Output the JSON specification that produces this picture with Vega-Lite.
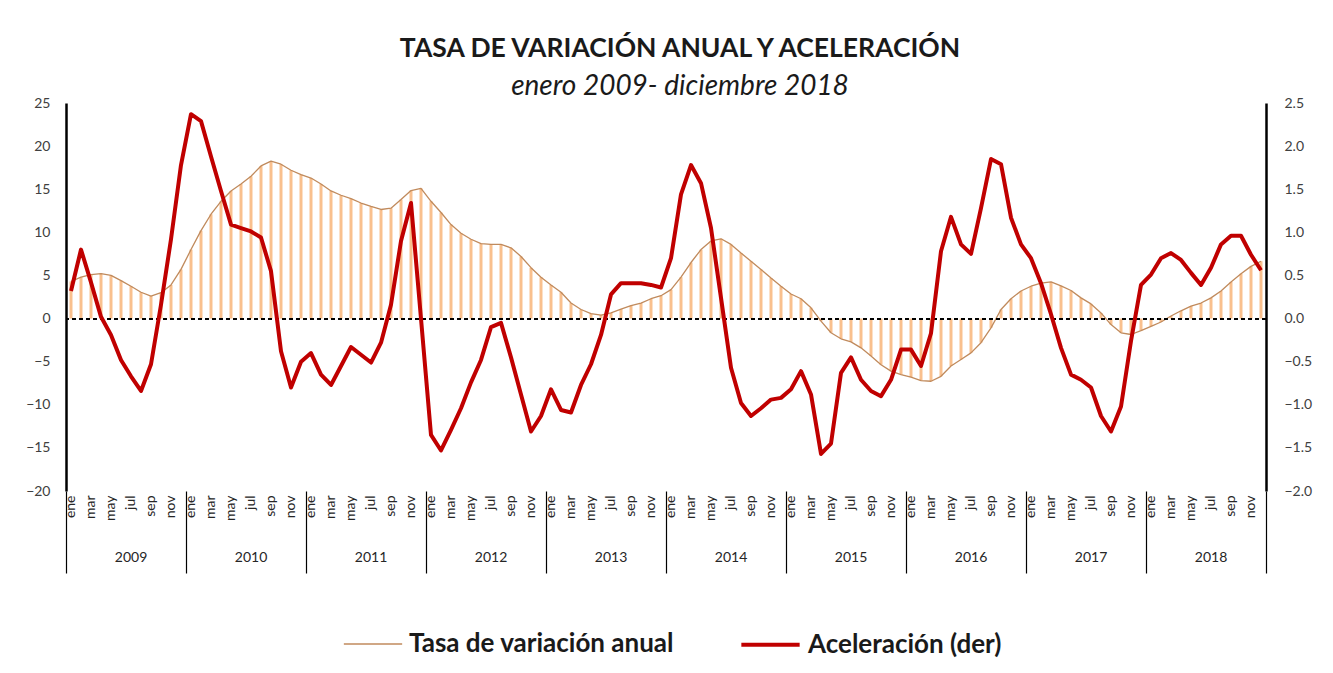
{
  "$schema": "https://vega.github.io/schema/vega-lite/v6.json",
  "width": 1200,
  "height": 388,
  "autosize": {"type": "none"},
  "padding": {"left": 66, "top": 103, "right": 67, "bottom": 182},
  "background": "white",
  "config": {
    "font": "Lato",
    "view": {"stroke": null},
    "axis": {"labelFont": "Lato", "labelColor": "#404040", "grid": false},
    "legend": {"labelFont": "Lato"}
  },
  "title": {
    "text": "TASA DE VARIACIÓN ANUAL Y ACELERACIÓN",
    "subtitle": "enero 2009- diciembre 2018",
    "anchor": "middle",
    "dx": 14,
    "fontSize": 26.5,
    "fontWeight": "bold",
    "color": "#1a1a1a",
    "subtitleFontSize": 28,
    "subtitleFontStyle": "italic",
    "subtitleColor": "#1a1a1a",
    "subtitlePadding": 11,
    "offset": -5
  },
  "data": {"values": [
    {"fecha": "2009-01", "tasa": 4.3, "acel": 0.32},
    {"fecha": "2009-02", "tasa": 4.8, "acel": 0.80},
    {"fecha": "2009-03", "tasa": 5.1, "acel": 0.42},
    {"fecha": "2009-04", "tasa": 5.2, "acel": 0.02},
    {"fecha": "2009-05", "tasa": 5.0, "acel": -0.19},
    {"fecha": "2009-06", "tasa": 4.4, "acel": -0.48},
    {"fecha": "2009-07", "tasa": 3.75, "acel": -0.67},
    {"fecha": "2009-08", "tasa": 3.05, "acel": -0.84},
    {"fecha": "2009-09", "tasa": 2.6, "acel": -0.53},
    {"fecha": "2009-10", "tasa": 3.0, "acel": 0.16},
    {"fecha": "2009-11", "tasa": 3.9, "acel": 0.92},
    {"fecha": "2009-12", "tasa": 5.7, "acel": 1.78},
    {"fecha": "2010-01", "tasa": 8.0, "acel": 2.37},
    {"fecha": "2010-02", "tasa": 10.2, "acel": 2.29},
    {"fecha": "2010-03", "tasa": 12.1, "acel": 1.88},
    {"fecha": "2010-04", "tasa": 13.6, "acel": 1.48},
    {"fecha": "2010-05", "tasa": 14.8, "acel": 1.09},
    {"fecha": "2010-06", "tasa": 15.6, "acel": 1.05},
    {"fecha": "2010-07", "tasa": 16.5, "acel": 1.01},
    {"fecha": "2010-08", "tasa": 17.7, "acel": 0.94},
    {"fecha": "2010-09", "tasa": 18.25, "acel": 0.55},
    {"fecha": "2010-10", "tasa": 17.9, "acel": -0.38},
    {"fecha": "2010-11", "tasa": 17.2, "acel": -0.80},
    {"fecha": "2010-12", "tasa": 16.7, "acel": -0.50},
    {"fecha": "2011-01", "tasa": 16.3, "acel": -0.40},
    {"fecha": "2011-02", "tasa": 15.6, "acel": -0.65},
    {"fecha": "2011-03", "tasa": 14.8, "acel": -0.77},
    {"fecha": "2011-04", "tasa": 14.3, "acel": -0.55},
    {"fecha": "2011-05", "tasa": 13.9, "acel": -0.33},
    {"fecha": "2011-06", "tasa": 13.4, "acel": -0.42},
    {"fecha": "2011-07", "tasa": 13.0, "acel": -0.51},
    {"fecha": "2011-08", "tasa": 12.65, "acel": -0.28},
    {"fecha": "2011-09", "tasa": 12.8, "acel": 0.16},
    {"fecha": "2011-10", "tasa": 13.8, "acel": 0.90},
    {"fecha": "2011-11", "tasa": 14.85, "acel": 1.34},
    {"fecha": "2011-12", "tasa": 15.1, "acel": 0.0},
    {"fecha": "2012-01", "tasa": 13.6, "acel": -1.35},
    {"fecha": "2012-02", "tasa": 12.3, "acel": -1.53},
    {"fecha": "2012-03", "tasa": 10.9, "acel": -1.29},
    {"fecha": "2012-04", "tasa": 9.9, "acel": -1.04},
    {"fecha": "2012-05", "tasa": 9.2, "acel": -0.74},
    {"fecha": "2012-06", "tasa": 8.7, "acel": -0.48},
    {"fecha": "2012-07", "tasa": 8.6, "acel": -0.10},
    {"fecha": "2012-08", "tasa": 8.6, "acel": -0.05},
    {"fecha": "2012-09", "tasa": 8.2, "acel": -0.45},
    {"fecha": "2012-10", "tasa": 7.2, "acel": -0.88},
    {"fecha": "2012-11", "tasa": 5.9, "acel": -1.31},
    {"fecha": "2012-12", "tasa": 4.8, "acel": -1.13},
    {"fecha": "2013-01", "tasa": 3.9, "acel": -0.82},
    {"fecha": "2013-02", "tasa": 3.05, "acel": -1.06},
    {"fecha": "2013-03", "tasa": 1.8, "acel": -1.09},
    {"fecha": "2013-04", "tasa": 1.05, "acel": -0.77},
    {"fecha": "2013-05", "tasa": 0.58, "acel": -0.53},
    {"fecha": "2013-06", "tasa": 0.4, "acel": -0.19},
    {"fecha": "2013-07", "tasa": 0.65, "acel": 0.28},
    {"fecha": "2013-08", "tasa": 1.1, "acel": 0.41},
    {"fecha": "2013-09", "tasa": 1.5, "acel": 0.41},
    {"fecha": "2013-10", "tasa": 1.8, "acel": 0.41},
    {"fecha": "2013-11", "tasa": 2.3, "acel": 0.39},
    {"fecha": "2013-12", "tasa": 2.65, "acel": 0.36},
    {"fecha": "2014-01", "tasa": 3.35, "acel": 0.70},
    {"fecha": "2014-02", "tasa": 4.8, "acel": 1.44},
    {"fecha": "2014-03", "tasa": 6.5, "acel": 1.78},
    {"fecha": "2014-04", "tasa": 8.0, "acel": 1.57},
    {"fecha": "2014-05", "tasa": 9.0, "acel": 1.05},
    {"fecha": "2014-06", "tasa": 9.25, "acel": 0.24},
    {"fecha": "2014-07", "tasa": 8.6, "acel": -0.57},
    {"fecha": "2014-08", "tasa": 7.6, "acel": -0.98},
    {"fecha": "2014-09", "tasa": 6.65, "acel": -1.13},
    {"fecha": "2014-10", "tasa": 5.7, "acel": -1.04},
    {"fecha": "2014-11", "tasa": 4.7, "acel": -0.94},
    {"fecha": "2014-12", "tasa": 3.75, "acel": -0.92},
    {"fecha": "2015-01", "tasa": 2.85, "acel": -0.82},
    {"fecha": "2015-02", "tasa": 2.3, "acel": -0.61},
    {"fecha": "2015-03", "tasa": 1.25, "acel": -0.88},
    {"fecha": "2015-04", "tasa": -0.3, "acel": -1.57},
    {"fecha": "2015-05", "tasa": -1.65, "acel": -1.45},
    {"fecha": "2015-06", "tasa": -2.35, "acel": -0.63},
    {"fecha": "2015-07", "tasa": -2.7, "acel": -0.45},
    {"fecha": "2015-08", "tasa": -3.4, "acel": -0.71},
    {"fecha": "2015-09", "tasa": -4.35, "acel": -0.84},
    {"fecha": "2015-10", "tasa": -5.35, "acel": -0.90},
    {"fecha": "2015-11", "tasa": -6.1, "acel": -0.71},
    {"fecha": "2015-12", "tasa": -6.5, "acel": -0.36},
    {"fecha": "2016-01", "tasa": -6.8, "acel": -0.36},
    {"fecha": "2016-02", "tasa": -7.2, "acel": -0.55},
    {"fecha": "2016-03", "tasa": -7.27, "acel": -0.17},
    {"fecha": "2016-04", "tasa": -6.7, "acel": 0.78},
    {"fecha": "2016-05", "tasa": -5.5, "acel": 1.18},
    {"fecha": "2016-06", "tasa": -4.75, "acel": 0.86},
    {"fecha": "2016-07", "tasa": -3.98, "acel": 0.75},
    {"fecha": "2016-08", "tasa": -2.8, "acel": 1.28},
    {"fecha": "2016-09", "tasa": -1.08, "acel": 1.85},
    {"fecha": "2016-10", "tasa": 1.05, "acel": 1.79},
    {"fecha": "2016-11", "tasa": 2.3, "acel": 1.17},
    {"fecha": "2016-12", "tasa": 3.2, "acel": 0.86},
    {"fecha": "2017-01", "tasa": 3.75, "acel": 0.70},
    {"fecha": "2017-02", "tasa": 4.1, "acel": 0.41},
    {"fecha": "2017-03", "tasa": 4.25, "acel": 0.05},
    {"fecha": "2017-04", "tasa": 3.8, "acel": -0.34},
    {"fecha": "2017-05", "tasa": 3.25, "acel": -0.65},
    {"fecha": "2017-06", "tasa": 2.4, "acel": -0.71},
    {"fecha": "2017-07", "tasa": 1.7, "acel": -0.80},
    {"fecha": "2017-08", "tasa": 0.65, "acel": -1.13},
    {"fecha": "2017-09", "tasa": -0.7, "acel": -1.31},
    {"fecha": "2017-10", "tasa": -1.65, "acel": -1.02},
    {"fecha": "2017-11", "tasa": -1.85, "acel": -0.26},
    {"fecha": "2017-12", "tasa": -1.4, "acel": 0.39},
    {"fecha": "2018-01", "tasa": -0.9, "acel": 0.51},
    {"fecha": "2018-02", "tasa": -0.4, "acel": 0.70},
    {"fecha": "2018-03", "tasa": 0.3, "acel": 0.76},
    {"fecha": "2018-04", "tasa": 0.9, "acel": 0.68},
    {"fecha": "2018-05", "tasa": 1.45, "acel": 0.53},
    {"fecha": "2018-06", "tasa": 1.8, "acel": 0.39},
    {"fecha": "2018-07", "tasa": 2.4, "acel": 0.59},
    {"fecha": "2018-08", "tasa": 3.2, "acel": 0.86},
    {"fecha": "2018-09", "tasa": 4.25, "acel": 0.96},
    {"fecha": "2018-10", "tasa": 5.2, "acel": 0.96},
    {"fecha": "2018-11", "tasa": 6.05, "acel": 0.74},
    {"fecha": "2018-12", "tasa": 6.65, "acel": 0.56}
  ]},
  "layer": [
    {
      "mark": {"type": "bar", "color": "#F9C08E", "width": {"band": 0.3}},
      "encoding": {
        "x": {
          "field": "fecha", "type": "ordinal",
          "scale": {"paddingInner": 0, "paddingOuter": 0},
          "axis": {
            "title": null, "orient": "bottom", "domain": false, "ticks": false,
            "labelAngle": -90, "labelOverlap": false, "labelFontSize": 14,
            "labelPadding": 4, "labelColor": "#262626",
            "labelExpr": "['ene','','mar','','may','','jul','','sep','','nov',''][toNumber(slice(datum.value,5))-1]"
          }
        },
        "y": {
          "field": "tasa", "type": "quantitative",
          "scale": {"domain": [-20, 25], "nice": false},
          "axis": {
            "title": null, "values": [-20,-15,-10,-5,0,5,10,15,20,25],
            "ticks": false, "domainColor": "black", "domainWidth": 2.5,
            "labelFontSize": 14, "labelPadding": 16
          }
        }
      }
    },
    {
      "mark": {"type": "line", "strokeJoin": "round"},
      "encoding": {
        "x": {
          "field": "fecha", "type": "ordinal",
          "axis": {
            "title": null, "orient": "bottom", "domain": false, "labels": false,
            "values": ["2018-12"], "bandPosition": 1,
            "tickSize": 82, "tickColor": "black", "tickWidth": 1.2
          }
        },
        "y": {
          "field": "tasa", "type": "quantitative",
          "scale": {"domain": [-20, 25], "nice": false},
          "axis": null
        },
        "color": {
          "datum": "Tasa de variación anual",
          "scale": {"domain": ["Tasa de variación anual", "Aceleración (der)"], "range": ["#C08A5C", "#C00000"]},
          "legend": {
            "title": null, "orient": "none", "legendX": 277, "legendY": 510,
            "direction": "horizontal",
            "symbolType": "stroke", "symbolSize": 3400,
            "labelFontSize": 26, "labelFontWeight": "bold", "labelColor": "#1a1a1a",
            "labelLimit": 0, "columnPadding": 58, "labelOffset": 6,
            "encode": {
              "symbols": {
                "update": {
                  "strokeWidth": {"signal": "datum.value === 'Aceleración (der)' ? 4 : 1.6"}
                }
              }
            }
          }
        },
        "strokeWidth": {
          "datum": "Tasa de variación anual",
          "scale": {"domain": ["Tasa de variación anual", "Aceleración (der)"], "range": [1.3, 4]},
          "legend": null
        }
      }
    },
    {
      "mark": {"type": "rule", "color": "black", "strokeDash": [4, 3], "strokeWidth": 1.3},
      "encoding": {
        "y": {"datum": 0, "type": "quantitative", "scale": {"domain": [-20, 25], "nice": false}, "axis": null}
      }
    },
    {
      "mark": {"type": "line", "strokeJoin": "round"},
      "encoding": {
        "x": {
          "field": "fecha", "type": "ordinal",
          "axis": {
            "title": null, "orient": "bottom", "domain": false,
            "values": ["2009-01","2010-01","2011-01","2012-01","2013-01","2014-01","2015-01","2016-01","2017-01","2018-01"],
            "bandPosition": 0, "tickSize": 82, "tickColor": "black", "tickWidth": 1.2,
            "labelAngle": 0, "labelAlign": "center", "labelBaseline": "top",
            "labelOffset": 60, "labelPadding": -23, "labelFontSize": 14, "labelColor": "#262626",
            "labelExpr": "slice(datum.value,0,4)"
          }
        },
        "y": {
          "field": "acel", "type": "quantitative",
          "scale": {"domain": [-2, 2.5], "nice": false},
          "axis": {
            "title": null, "orient": "right", "values": [-2,-1.5,-1,-0.5,0,0.5,1,1.5,2,2.5],
            "format": ".1f", "ticks": false, "domainColor": "black", "domainWidth": 2.5,
            "labelFontSize": 14, "labelPadding": 18
          }
        },
        "color": {"datum": "Aceleración (der)"},
        "strokeWidth": {"datum": "Aceleración (der)"}
      }
    }
  ],
  "resolve": {
    "scale": {"y": "independent"},
    "axis": {"x": "independent", "y": "independent"}
  }
}
